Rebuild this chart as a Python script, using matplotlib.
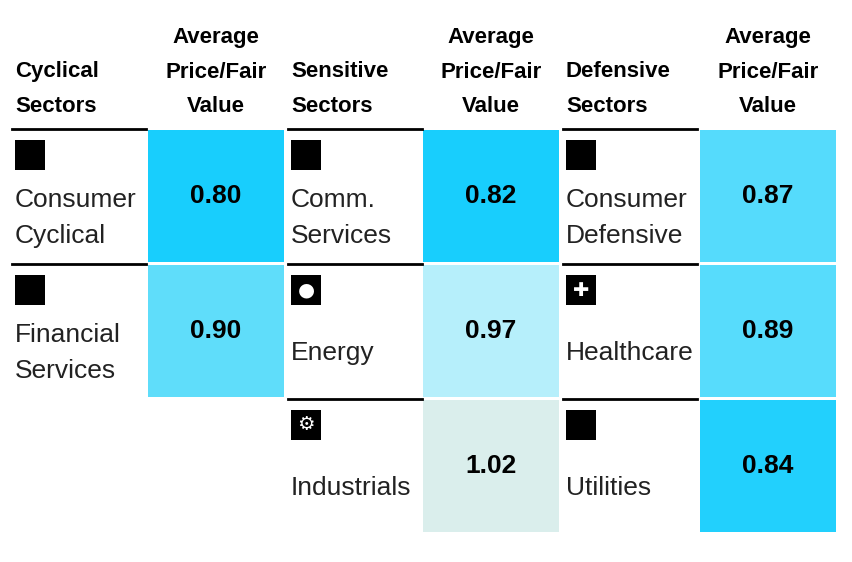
import matplotlib.pyplot as plt
from matplotlib.patches import Rectangle

plt.rcParams['font.family'] = ['Liberation Sans', 'DejaVu Sans']

# data
groups = ['Cyclical\nSectors', 'Sensitive\nSectors', 'Defensive\nSectors']
sectors = [
    ['Consumer\nCyclical', 'Financial\nServices'],
    ['Comm.\nServices', 'Energy', 'Industrials'],
    ['Consumer\nDefensive', 'Healthcare', 'Utilities'],
]
values = [
    [0.80, 0.90],
    [0.82, 0.97, 1.02],
    [0.87, 0.89, 0.84],
]
icons = [['', ''], ['', '\u25CF', '\u2699'], ['', '\u271A', '']]
colors = {0.80: '#18CEFD', 0.82: '#18CEFD', 0.84: '#22D0FD', 0.87: '#55DBFC',
          0.89: '#57DCFC', 0.90: '#5FDDFA', 0.97: '#B6EFFB', 1.02: '#DAEEEC'}

fig = plt.figure(figsize=(8.53, 5.62), dpi=100)
ax = fig.add_axes([0, 0, 1, 1])
ax.set_xlim(0, 853)
ax.set_ylim(562, 0)
ax.axis('off')

lab_x = [12, 288, 563]
val_x = [148, 423, 700]
lab_w, val_w = 134, 136
row_top = [130, 265, 400]
row_h = 132

for g in range(3):
    lx, vx = lab_x[g], val_x[g]
    ax.text(lx + 3, 89, groups[g], ha='left', va='center', fontsize=16,
            fontweight='bold', linespacing=1.85)
    ax.text(vx + val_w / 2, 72, 'Average\nPrice/Fair\nValue', ha='center',
            va='center', fontsize=16, fontweight='bold', linespacing=1.85)
    ax.plot([lx, lx + lab_w], [128.5, 128.5], color='black', lw=2)
    for r, (name, v) in enumerate(zip(sectors[g], values[g])):
        top = row_top[r]
        if r > 0:
            ax.plot([lx, lx + lab_w], [top - 1.5, top - 1.5], color='black', lw=2)
        ax.add_patch(Rectangle((vx, top), val_w, row_h, color=colors[v], lw=0))
        ax.text(vx + val_w / 2, top + row_h / 2, f'{v:.2f}', ha='center',
                va='center', fontsize=19, fontweight='bold')
        ax.add_patch(Rectangle((lx + 3, top + 10), 30, 30, color='black', lw=0))
        if icons[g][r]:
            ax.text(lx + 18, top + 25, icons[g][r], ha='center', va='center',
                    color='white', fontsize=14, family='DejaVu Sans')
        ax.text(lx + 3, top + 88, name, ha='left', va='center', fontsize=19,
                linespacing=1.6, color='#222222')

fig.savefig('out.png', dpi=100)
